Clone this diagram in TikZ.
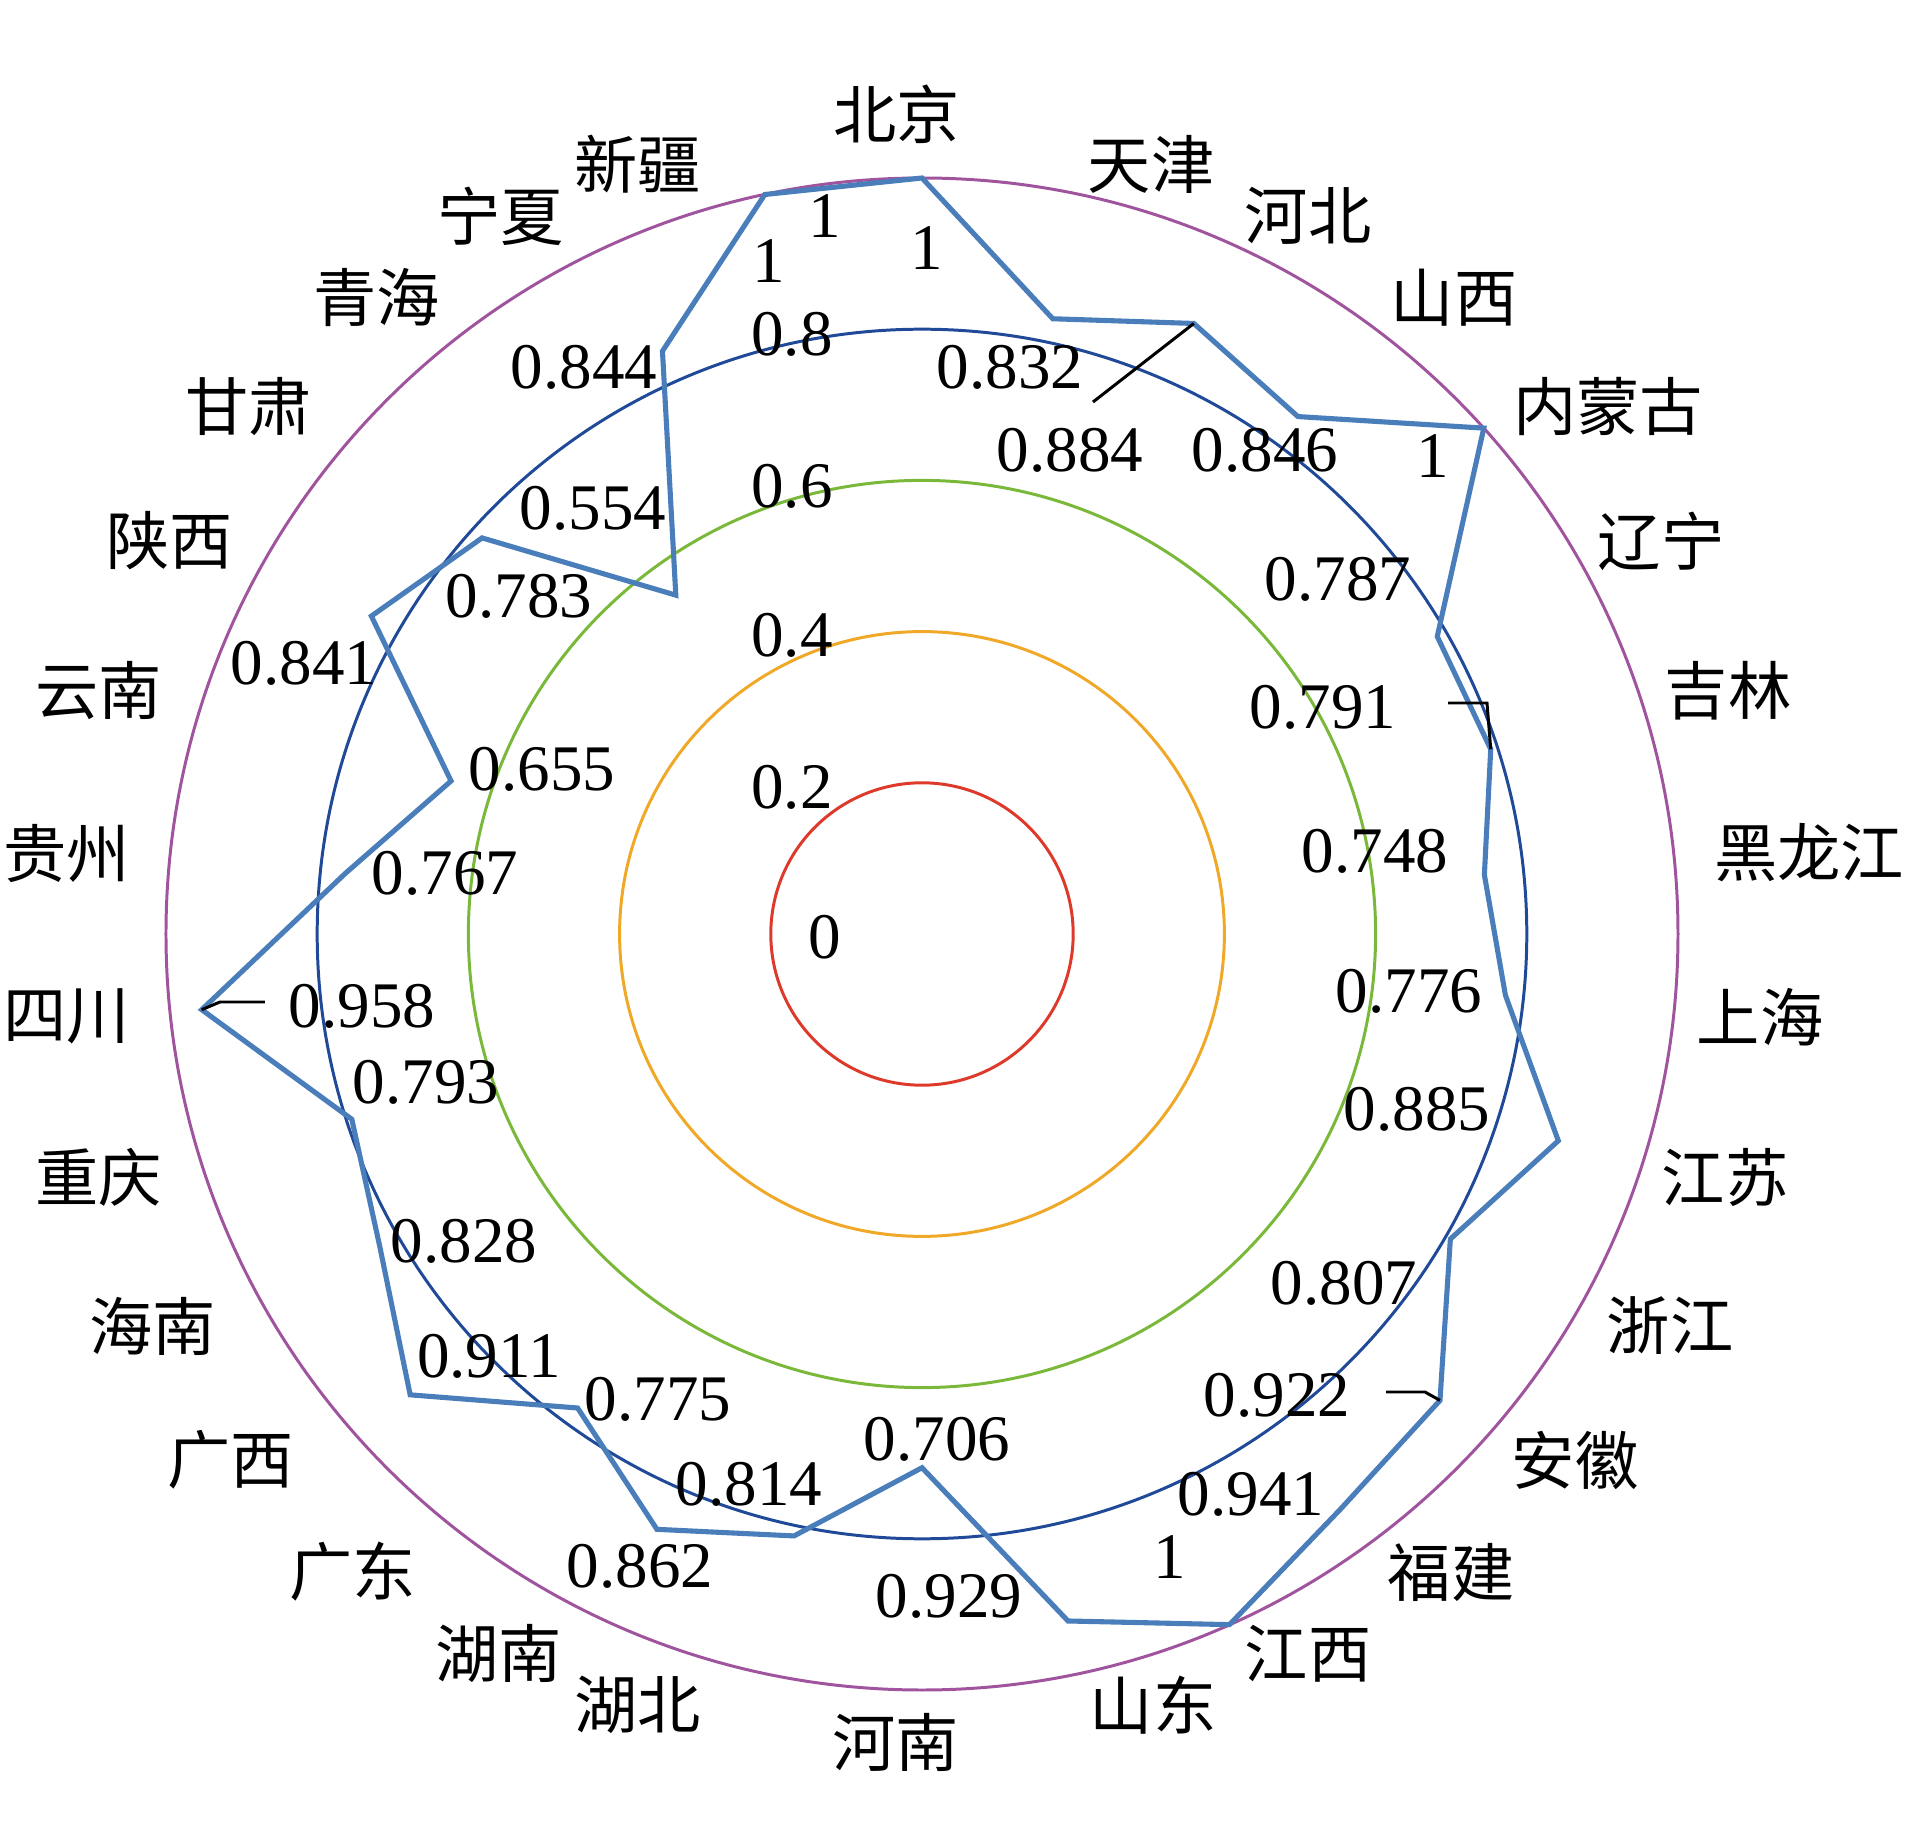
\documentclass[tikz,border=0pt]{standalone}
\usepackage{fontspec}
\setmainfont{Liberation Serif}
\newfontfamily\cjk{Noto Sans CJK SC}
\usepackage{tikz}
\usetikzlibrary{positioning, calc}
\definecolor{seriesblue}{RGB}{74, 126, 187}
\definecolor{ringred}{RGB}{221, 58, 44}
\definecolor{ringorange}{RGB}{240, 168, 40}
\definecolor{ringgreen}{RGB}{122, 184, 58}
\definecolor{ringblue}{RGB}{32, 74, 152}
\definecolor{ringpurple}{RGB}{160, 84, 158}
\newcommand{\rad}{7.56}

\begin{document}
\begin{tikzpicture}[
    ring/.style={line width=0.85pt},
    series/.style={draw=seriesblue, line width=1.45pt, line join=miter},
    leader/.style={draw=black, line width=0.85pt},
    lab/.style={font=\cjk\fontsize{18}{20}\selectfont, inner sep=1pt},
    val/.style={font=\fontsize{18.5}{20}\selectfont, inner sep=1pt}
  ]
  \useasboundingbox (-9.22,-9.05) rectangle (9.86,9.34);

  % Grid rings
  \draw[ring, ringred] (0,0) circle (0.2*\rad);
  \draw[ring, ringorange] (0,0) circle (0.4*\rad);
  \draw[ring, ringgreen] (0,0) circle (0.6*\rad);
  \draw[ring, ringblue] (0,0) circle (0.8*\rad);
  \draw[ring, ringpurple] (0,0) circle (\rad);

  % Axis values
  \node[val] (ax0) at (-0.97,-0.03) {0};
  \node[val] (ax2) at (-1.30,1.47) {0.2};
  \node[val] (ax4) at (-1.30,2.99) {0.4};
  \node[val] (ax6) at (-1.30,4.48) {0.6};
  \node[val] (ax8) at (-1.30,6.00) {0.8};
  \node[val] (ax10) at (-0.97,7.18) {1};

  % Data points
  \coordinate (pt-bj) at (90:{1*\rad});
  \coordinate (pt-tj) at (78:{0.832*\rad});
  \coordinate (pt-heb) at (66:{0.884*\rad});
  \coordinate (pt-sx) at (54:{0.846*\rad});
  \coordinate (pt-nmg) at (42:{1*\rad});
  \coordinate (pt-ln) at (30:{0.787*\rad});
  \coordinate (pt-jl) at (18:{0.791*\rad});
  \coordinate (pt-hlj) at (6:{0.748*\rad});
  \coordinate (pt-sh) at (-6:{0.776*\rad});
  \coordinate (pt-js) at (-18:{0.885*\rad});
  \coordinate (pt-zj) at (-30:{0.807*\rad});
  \coordinate (pt-ah) at (-42:{0.922*\rad});
  \coordinate (pt-fj) at (-54:{0.941*\rad});
  \coordinate (pt-jx) at (-66:{1*\rad});
  \coordinate (pt-sd) at (-78:{0.929*\rad});
  \coordinate (pt-hen) at (-90:{0.706*\rad});
  \coordinate (pt-hub) at (-102:{0.814*\rad});
  \coordinate (pt-hun) at (-114:{0.862*\rad});
  \coordinate (pt-gd) at (-126:{0.775*\rad});
  \coordinate (pt-gx) at (-138:{0.911*\rad});
  \coordinate (pt-hn) at (-150:{0.828*\rad});
  \coordinate (pt-cq) at (-162:{0.793*\rad});
  \coordinate (pt-sc) at (-174:{0.958*\rad});
  \coordinate (pt-gz) at (174:{0.767*\rad});
  \coordinate (pt-yn) at (162:{0.655*\rad});
  \coordinate (pt-shx) at (150:{0.841*\rad});
  \coordinate (pt-gs) at (138:{0.783*\rad});
  \coordinate (pt-qh) at (126:{0.554*\rad});
  \coordinate (pt-nx) at (114:{0.844*\rad});
  \coordinate (pt-xj) at (102:{1*\rad});

  % Series
  \draw[series] (pt-bj) -- (pt-tj) -- (pt-heb) -- (pt-sx) -- (pt-nmg) -- (pt-ln)
    -- (pt-jl) -- (pt-hlj) -- (pt-sh) -- (pt-js) -- (pt-zj) -- (pt-ah) -- (pt-fj)
    -- (pt-jx) -- (pt-sd) -- (pt-hen) -- (pt-hub) -- (pt-hun) -- (pt-gd) -- (pt-gx)
    -- (pt-hn) -- (pt-cq) -- (pt-sc) -- (pt-gz) -- (pt-yn) -- (pt-shx) -- (pt-gs)
    -- (pt-qh) -- (pt-nx) -- (pt-xj) -- cycle;

  % Data labels
  \node[val] (val-bj) at (0.05,6.86) {1};
  \node[val] (val-tj) at (0.88,5.67) {0.832};
  \node[val] (val-heb) at (1.48,4.84) {0.884};
  \node[val] (val-sx) at (3.43,4.84) {0.846};
  \node[val] (val-nmg) at (5.11,4.78) {1};
  \node[val] (val-ln) at (4.16,3.55) {0.787};
  \node[val] (val-jl) at (4.01,2.27) {0.791};
  \node[val] (val-hlj) at (4.53,0.83) {0.748};
  \node[val] (val-sh) at (4.87,-0.57) {0.776};
  \node[val] (val-js) at (4.95,-1.75) {0.885};
  \node[val] (val-zj) at (4.22,-3.49) {0.807};
  \node[val] (val-ah) at (3.55,-4.61) {0.922};
  \node[val] (val-fj) at (3.29,-5.60) {0.941};
  \node[val] (val-jx) at (2.48,-6.23) {1};
  \node[val] (val-sd) at (0.27,-6.62) {0.929};
  \node[val] (val-hen) at (0.15,-5.05) {0.706};
  \node[val] (val-hub) at (-1.73,-5.50) {0.814};
  \node[val] (val-hun) at (-2.82,-6.32) {0.862};
  \node[val] (val-gd) at (-2.64,-4.65) {0.775};
  \node[val] (val-gx) at (-4.33,-4.22) {0.911};
  \node[val] (val-hn) at (-4.58,-3.07) {0.828};
  \node[val] (val-cq) at (-4.96,-1.48) {0.793};
  \node[val] (val-sc) at (-5.60,-0.72) {0.958};
  \node[val] (val-gz) at (-4.77,0.61) {0.767};
  \node[val] (val-yn) at (-3.80,1.65) {0.655};
  \node[val] (val-shx) at (-6.18,2.71) {0.841};
  \node[val] (val-gs) at (-4.03,3.38) {0.783};
  \node[val] (val-qh) at (-3.29,4.26) {0.554};
  \node[val] (val-nx) at (-3.38,5.67) {0.844};
  \node[val] (val-xj) at (-1.53,6.73) {1};

  % Leader lines
  \coordinate (k-heb) at (1.71,5.32);
  \coordinate (k-jl) at (5.26,2.31);
  \coordinate (k-ah) at (4.64,-4.58);
  \coordinate (k-sc) at (-6.57,-0.68);
  \draw[leader] (k-heb) -- (pt-heb);
  \draw[leader] (k-jl) -- ++(0.39,0) -- (pt-jl);
  \draw[leader] (k-ah) -- ++(0.39,0) -- (pt-ah);
  \draw[leader] (k-sc) -- ++(-0.45,0) -- (pt-sc);

  % Province names
  \node[lab] (lab-bj) at (-0.25,8.20) {北京};
  \node[lab] (lab-tj) at (2.29,7.70) {天津};
  \node[lab] (lab-heb) at (3.86,7.18) {河北};
  \node[lab] (lab-sx) at (5.32,6.36) {山西};
  \node[lab] (lab-nmg) at (6.86,5.27) {内蒙古};
  \node[lab] (lab-ln) at (7.39,3.93) {辽宁};
  \node[lab] (lab-jl) at (8.06,2.43) {吉林};
  \node[lab] (lab-hlj) at (8.87,0.81) {黑龙江};
  \node[lab] (lab-sh) at (8.38,-0.83) {上海};
  \node[lab] (lab-js) at (8.03,-2.43) {江苏};
  \node[lab] (lab-zj) at (7.48,-3.92) {浙江};
  \node[lab] (lab-ah) at (6.53,-5.26) {安徽};
  \node[lab] (lab-fj) at (5.29,-6.38) {福建};
  \node[lab] (lab-jx) at (3.86,-7.20) {江西};
  \node[lab] (lab-sd) at (2.31,-7.71) {山东};
  \node[lab] (lab-hen) at (-0.26,-8.08) {河南};
  \node[lab] (lab-hub) at (-2.84,-7.71) {湖北};
  \node[lab] (lab-hun) at (-4.23,-7.20) {湖南};
  \node[lab] (lab-gd) at (-5.69,-6.38) {广东};
  \node[lab] (lab-gx) at (-6.91,-5.26) {广西};
  \node[lab] (lab-hn) at (-7.69,-3.92) {海南};
  \node[lab] (lab-cq) at (-8.23,-2.43) {重庆};
  \node[lab] (lab-sc) at (-8.55,-0.82) {四川};
  \node[lab] (lab-gz) at (-8.55,0.80) {贵州};
  \node[lab] (lab-yn) at (-8.23,2.43) {云南};
  \node[lab] (lab-shx) at (-7.52,3.93) {陕西};
  \node[lab] (lab-gs) at (-6.73,5.27) {甘肃};
  \node[lab] (lab-qh) at (-5.45,6.36) {青海};
  \node[lab] (lab-nx) at (-4.21,7.18) {宁夏};
  \node[lab] (lab-xj) at (-2.84,7.70) {新疆};
\end{tikzpicture}
\end{document}
